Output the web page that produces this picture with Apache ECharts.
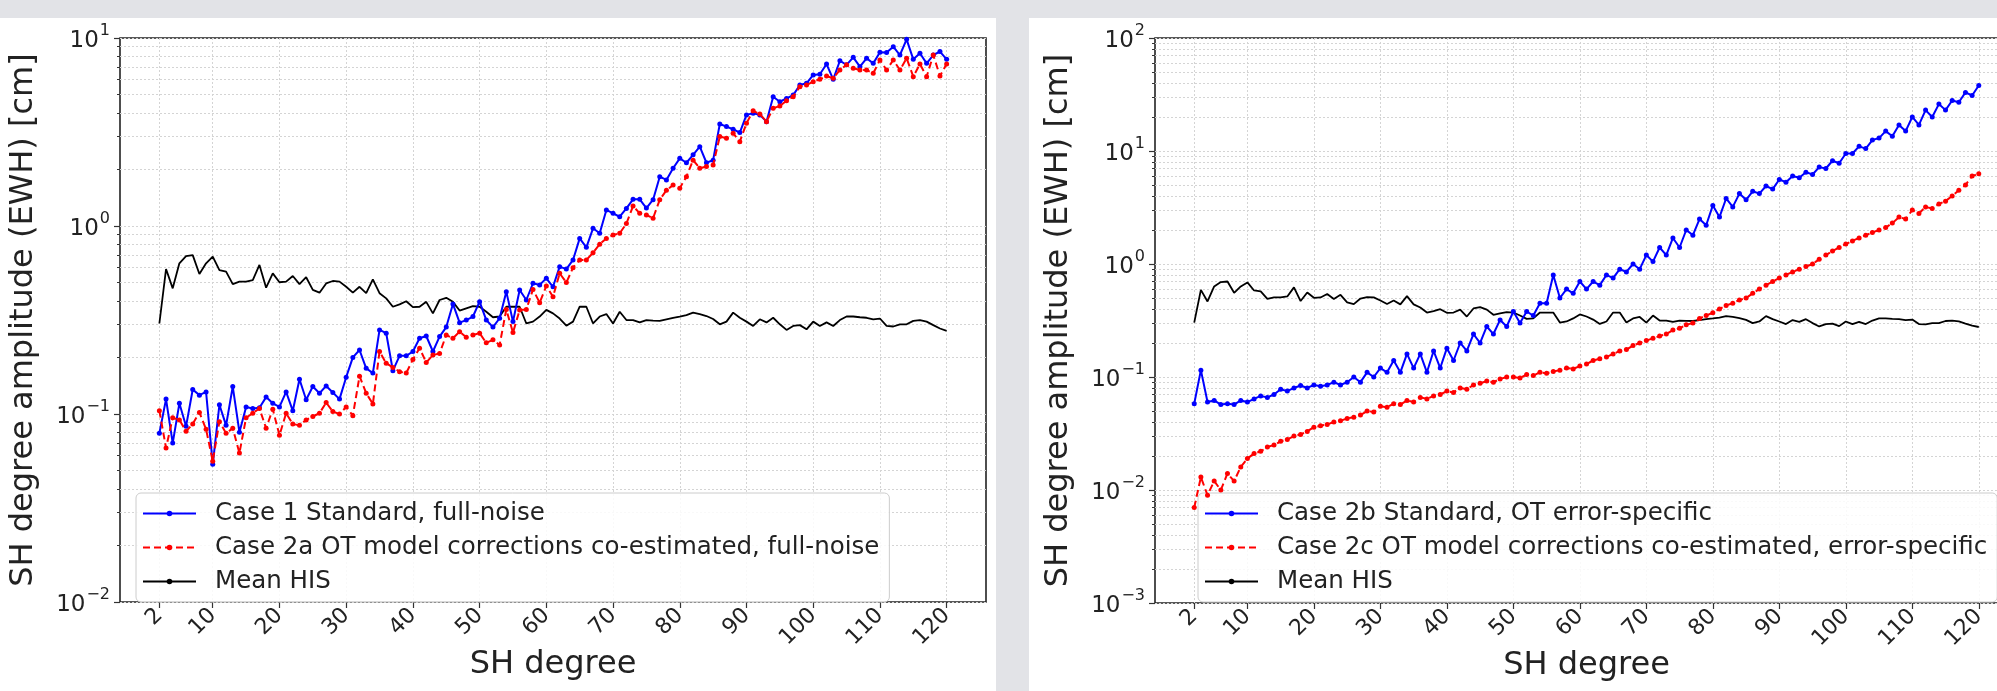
<!DOCTYPE html>
<html>
<head>
<meta charset="utf-8">
<script src="https://cdn.jsdelivr.net/npm/echarts@6/dist/echarts.min.js"></script>
<style>
  html, body { margin: 0; padding: 0; background: #e2e3e7; overflow: hidden; }
  .panel { position: absolute; background: #fff; }
  #chart { position: absolute; left: 0; top: 0; width: 2040px; height: 691px; }
</style>
</head>
<body>
<div class="panel" style="left:0;top:18px;width:996px;height:673px"></div>
<div class="panel" style="left:1029px;top:18px;width:968px;height:673px"></div>
<div id="chart"></div>
<script>
// SH degrees 2..120
const degrees = [];
for (let d = 2; d <= 120; d++) degrees.push(d);

const xTicks = [2, 10, 20, 30, 40, 50, 60, 70, 80, 90, 100, 110, 120];

// left panel
const case1 = [0.079,0.12,0.070,0.114,0.086,0.135,0.126,0.131,0.054,0.112,0.087,0.14,0.08,0.109,0.107,0.108,0.123,0.114,0.109,0.131,
  0.104,0.153,0.119,0.14,0.129,0.141,0.13,0.12,0.157,0.20,0.219,0.175,0.165,0.28,0.269,0.17,0.204,0.204,0.215,0.253,
  0.26,0.215,0.258,0.29,0.385,0.306,0.316,0.33,0.396,0.316,0.29,0.323,0.4475,0.31,0.457,0.404,0.496,0.486,0.527,0.475,
  0.608,0.59,0.66,0.859,0.77,0.972,0.915,1.217,1.168,1.12,1.24,1.387,1.387,1.245,1.38,1.83,1.758,2.03,2.29,2.17,
  2.39,2.64,2.17,2.24,3.49,3.38,3.27,3.14,3.9,3.98,3.9,3.59,4.87,4.58,4.77,4.97,5.62,5.74,6.36,6.42,
  7.27,6.03,7.57,7.2,7.89,7.04,7.8,7.33,8.39,8.37,8.99,8.12,9.84,7.7,8.3,7.33,8.12,8.47,7.7];
const case2a = [0.104,0.066,0.0955,0.093,0.081,0.0885,0.102,0.083,0.056,0.091,0.079,0.084,0.062,0.0955,0.101,0.107,0.084,0.106,0.077,0.101,
  0.0885,0.087,0.093,0.097,0.101,0.115,0.103,0.1,0.109,0.098,0.159,0.129,0.113,0.215,0.186,0.177,0.168,0.165,0.195,0.224,
  0.188,0.206,0.21,0.263,0.253,0.274,0.256,0.263,0.269,0.239,0.248,0.233,0.36,0.271,0.357,0.36,0.46,0.391,0.48,0.42,
  0.56,0.50,0.60,0.66,0.66,0.72,0.80,0.859,0.896,0.915,1.03,1.277,1.168,1.144,1.1,1.38,1.55,1.65,1.59,1.83,
  2.24,2.03,2.07,2.11,2.99,2.93,3.11,2.81,3.52,4.1,3.94,3.59,4.23,4.35,4.64,4.87,5.51,5.62,5.86,6.03,
  6.28,6.1,6.76,7.2,6.9,6.76,6.76,6.49,7.64,6.76,7.64,6.76,7.8,6.23,7.27,6.23,8.12,6.28,7.27];
const meanHIS = [0.303,0.590,0.466,0.633,0.692,0.70,0.556,0.633,0.687,0.583,0.572,0.491,0.506,0.506,0.516,0.621,0.47,0.56,0.502,0.506,
  0.542,0.491,0.534,0.457,0.442,0.495,0.51,0.506,0.475,0.442,0.475,0.439,0.52,0.439,0.412,0.372,0.383,0.398,0.37,0.372,
  0.395,0.343,0.404,0.415,0.395,0.355,0.365,0.375,0.372,0.35,0.327,0.33,0.372,0.372,0.372,0.303,0.31,0.33,0.358,0.343,
  0.322,0.295,0.31,0.372,0.372,0.303,0.330,0.340,0.303,0.350,0.316,0.316,0.307,0.316,0.314,0.313,0.319,0.325,0.33,0.336,
  0.346,0.34,0.332,0.32,0.30,0.31,0.346,0.325,0.31,0.294,0.319,0.307,0.325,0.30,0.28,0.294,0.297,0.282,0.31,0.294,
  0.307,0.294,0.316,0.33,0.33,0.327,0.325,0.319,0.322,0.294,0.292,0.30,0.30,0.313,0.316,0.31,0.297,0.285,0.277];

// right panel
const case2b = [0.058,0.115,0.06,0.062,0.057,0.058,0.057,0.062,0.06,0.064,0.068,0.066,0.07,0.078,0.075,0.08,0.084,0.08,0.085,0.083,
  0.085,0.09,0.085,0.09,0.1,0.09,0.11,0.1,0.12,0.11,0.14,0.11,0.16,0.12,0.16,0.11,0.17,0.12,0.18,0.14,
  0.2,0.17,0.24,0.2,0.28,0.24,0.32,0.28,0.38,0.3,0.38,0.35,0.45,0.45,0.8,0.5,0.6,0.55,0.7,0.6,
  0.7,0.65,0.8,0.75,0.9,0.85,1.0,0.9,1.2,1.05,1.4,1.2,1.7,1.4,2.0,1.8,2.5,2.2,3.3,2.6,
  3.8,3.2,4.2,3.7,4.4,4.2,4.9,4.6,5.6,5.3,6.0,5.8,6.5,6.2,7.2,7.0,8.2,7.8,9.5,9.5,
  11,10.5,12.5,13,15,13.5,17,15,20,17,23,20,26,23,28,27,33,31,38];
const case2c = [0.007,0.013,0.009,0.012,0.01,0.014,0.012,0.016,0.019,0.021,0.022,0.024,0.025,0.027,0.028,0.03,0.031,0.033,0.036,0.037,
  0.038,0.04,0.041,0.043,0.044,0.046,0.05,0.049,0.055,0.054,0.058,0.057,0.062,0.06,0.066,0.064,0.068,0.07,0.075,0.073,
  0.08,0.078,0.085,0.088,0.092,0.09,0.096,0.1,0.1,0.098,0.105,0.103,0.11,0.108,0.112,0.115,0.12,0.118,0.125,0.13,
  0.14,0.145,0.15,0.16,0.17,0.175,0.19,0.2,0.21,0.22,0.23,0.24,0.26,0.27,0.29,0.3,0.33,0.35,0.37,0.4,
  0.43,0.45,0.48,0.5,0.55,0.6,0.65,0.7,0.75,0.8,0.85,0.9,0.95,1.0,1.1,1.2,1.3,1.4,1.5,1.6,
  1.7,1.8,1.9,2.0,2.1,2.3,2.6,2.5,3.0,2.8,3.2,3.1,3.4,3.6,4.0,4.5,5.0,6.0,6.3];

const minorLeft = [0.02,0.03,0.04,0.05,0.06,0.07,0.08,0.09,0.2,0.3,0.4,0.5,0.6,0.7,0.8,0.9,2,3,4,5,6,7,8,9];
const minorRight = [0.002,0.003,0.004,0.005,0.006,0.007,0.008,0.009,0.02,0.03,0.04,0.05,0.06,0.07,0.08,0.09,
  0.2,0.3,0.4,0.5,0.6,0.7,0.8,0.9,2,3,4,5,6,7,8,9,20,30,40,50,60,70,80,90];

const FONT = "DejaVu Sans";
const pairs = (vals) => degrees.map((d, i) => [d, vals[i]]);
const supLabel = (v) => {
  const e = Math.round(Math.log10(v));
  return "{b|10}{s|" + (e < 0 ? "\u2212" + (-e) : e) + "}";
};

const gridLine = { show: true, lineStyle: { color: "#d4d4d4", type: [2, 2], width: 1 } };

const makeX = (gridIndex) => ({
  type: "value", gridIndex, min: -3.9, max: 125.9, position: "bottom",
  name: "SH degree", nameLocation: "middle", nameGap: 47, nameMoveOverlap: false,
  nameTextStyle: { fontFamily: FONT, fontSize: 32, color: "#222" },
  axisLine: { show: false, onZero: false },
  axisTick: { show: true, length: 6, customValues: xTicks, lineStyle: { color: "#333", width: 1.2 } },
  axisLabel: { customValues: xTicks, rotate: 45, margin: 10, fontFamily: FONT, fontSize: 22, color: "#222" },
  splitLine: gridLine
});

const makeY = (gridIndex, min, max) => ({
  type: "log", logBase: 10, gridIndex, min, max, position: "left", offset: 0,
  name: "SH degree amplitude (EWH) [cm]", nameLocation: "middle", nameGap: 80, nameMoveOverlap: false,
  nameTextStyle: { fontFamily: FONT, fontSize: 32, color: "#222" },
  axisLine: { show: false, onZero: false },
  axisTick: { show: true, length: 6, lineStyle: { color: "#333", width: 1.2 } },
  axisLabel: {
    margin: 10, formatter: supLabel,
    rich: {
      b: { fontFamily: FONT, fontSize: 23, color: "#222", lineHeight: 30, verticalAlign: "bottom" },
      s: { fontFamily: FONT, fontSize: 16, color: "#222", lineHeight: 30, verticalAlign: "top", padding: [0, 0, 12, 1] }
    }
  },
  splitLine: gridLine
});

const makeMinorY = (gridIndex, min, max, vals) => ({
  type: "log", logBase: 10, gridIndex, min, max, position: "left", offset: 0,
  axisLine: { show: false, onZero: false },
  axisTick: { show: true, length: 3, customValues: vals, lineStyle: { color: "#333", width: 1 } },
  axisLabel: { show: false },
  splitLine: gridLine
});

const blueSeries = (name, vals, xi, yi) => ({
  name, type: "line", xAxisIndex: xi, yAxisIndex: yi, data: pairs(vals),
  symbol: "circle", symbolSize: 5, showSymbol: true,
  lineStyle: { color: "#0000ff", width: 2 }, itemStyle: { color: "#0000ff" },
  z: 4
});
const redSeries = (name, vals, xi, yi) => ({
  name, type: "line", xAxisIndex: xi, yAxisIndex: yi, data: pairs(vals),
  symbol: "circle", symbolSize: 5, showSymbol: true,
  lineStyle: { color: "#ff0000", width: 2, type: [7, 4] }, itemStyle: { color: "#ff0000" },
  z: 5
});
const blackSeries = (vals, xi, yi) => ({
  name: "Mean HIS", type: "line", xAxisIndex: xi, yAxisIndex: yi, data: pairs(vals),
  symbol: "none", lineStyle: { color: "#000", width: 1.8 }, itemStyle: { color: "#000" },
  z: 3
});

const legendBase = {
  orient: "vertical", itemWidth: 53, itemHeight: 7, itemGap: 9,
  backgroundColor: "rgba(255,255,255,0.85)", borderColor: "#cccccc", borderWidth: 1, borderRadius: 5,
  padding: [8, 10, 8, 6],
  textStyle: { fontFamily: FONT, fontSize: 24.5, color: "#222", lineHeight: 22, padding: [0, 0, 0, 14] }
};

const gridBase = { show: true, borderColor: "#222", borderWidth: 1.6, backgroundColor: "transparent", outerBoundsMode: "none", containLabel: false };

const chart = echarts.init(document.getElementById("chart"), null, { renderer: "canvas" });
chart.setOption({
  backgroundColor: "transparent",
  animation: false,
  grid: [
    Object.assign({ left: 120, top: 38, width: 866, height: 564 }, gridBase),
    Object.assign({ left: 1155, top: 38, width: 863, height: 565 }, gridBase)
  ],
  xAxis: [makeX(0), makeX(1)],
  yAxis: [
    makeY(0, 0.01, 10), makeMinorY(0, 0.01, 10, minorLeft),
    makeY(1, 0.001, 100), makeMinorY(1, 0.001, 100, minorRight)
  ],
  legend: [
    Object.assign({}, legendBase, { left: 136, top: 493,
      data: ["Case 1 Standard, full-noise", "Case 2a OT model corrections co-estimated, full-noise", "Mean HIS"] }),
    Object.assign({}, legendBase, { left: 1198, top: 493,
      data: ["Case 2b Standard, OT error-specific", "Case 2c OT model corrections co-estimated, error-specific", "Mean HIS"] })
  ],
  series: [
    blueSeries("Case 1 Standard, full-noise", case1, 0, 0),
    redSeries("Case 2a OT model corrections co-estimated, full-noise", case2a, 0, 0),
    blackSeries(meanHIS, 0, 0),
    blueSeries("Case 2b Standard, OT error-specific", case2b, 1, 2),
    redSeries("Case 2c OT model corrections co-estimated, error-specific", case2c, 1, 2),
    blackSeries(meanHIS, 1, 2)
  ]
});
</script>
</body>
</html>
